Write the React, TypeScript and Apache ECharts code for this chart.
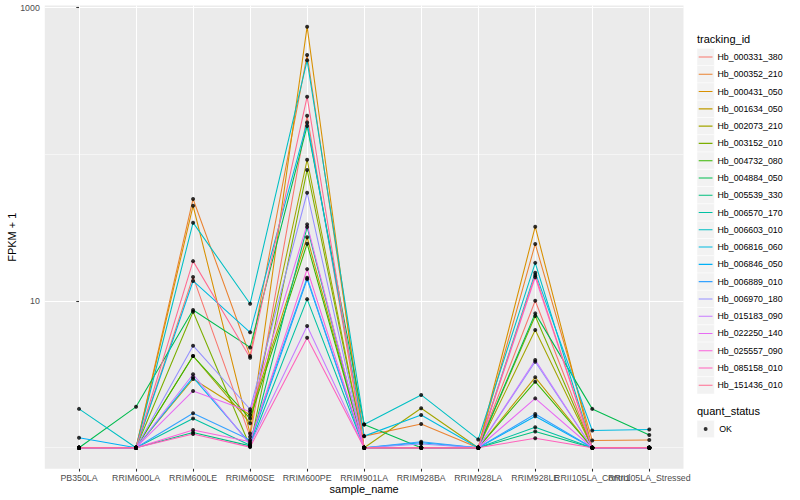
import React, { useEffect, useRef } from "react";
import * as echarts from "echarts";

const FONT = "'Liberation Sans', Arial, Helvetica, sans-serif";

const categories = [
  "PB350LA", "RRIM600LA", "RRIM600LE", "RRIM600SE", "RRIM600PE", "RRIM901LA",
  "RRIM928BA", "RRIM928LA", "RRIM928LE", "RRII105LA_Control", "RRII105LA_Stressed",
];

const trackingIds = [
  "Hb_000331_380", "Hb_000352_210", "Hb_000431_050", "Hb_001634_050", "Hb_002073_210",
  "Hb_003152_010", "Hb_004732_080", "Hb_004884_050", "Hb_005539_330", "Hb_006570_170",
  "Hb_006603_010", "Hb_006816_060", "Hb_006846_050", "Hb_006889_010", "Hb_006970_180",
  "Hb_015183_090", "Hb_022250_140", "Hb_025557_090", "Hb_085158_010", "Hb_151436_010",
];

const hueColors = [
  "#F8766D", "#EA8331", "#D89000", "#C09B00", "#A3A500", "#7CAE00", "#39B600", "#00BB4E",
  "#00BF7D", "#00C1A3", "#00BFC4", "#00BAE0", "#00B0F6", "#35A2FF", "#9590FF", "#C77CFF",
  "#E76BF3", "#FA62DB", "#FF62BC", "#FF6C91",
];

// FPKM + 1 per gene, in category order
const hb000331_380 = [1, 1, 14.6, 1.19, 183, 1, 1, 1, 10.05, 1, 1];
const hb000352_210 = [1, 1, 49.6, 4.22, 475, 1.2, 1.45, 1, 24.5, 1.12, 1.13];
const hb000431_050 = [1, 1, 44.6, 1.25, 741, 1, 1, 1, 32.1, 1, 1];
const hb001634_050 = [1, 1, 2.94, 1.67, 27.2, 1, 1, 1, 3.02, 1, 1];
const hb002073_210 = [1, 1, 4.22, 1.47, 91.8, 1, 1.86, 1, 6.34, 1, 1];
const hb003152_010 = [1, 1, 8.45, 1.02, 78.2, 1, 1, 1, 7.9, 1, 1];
const hb004732_080 = [1, 1, 4.22, 1.58, 24.6, 1, 1, 1, 2.82, 1, 1];
const hb004884_050 = [1, 1.9, 8.69, 4.83, 156, 1.44, 1, 1, 8.24, 1.84, 1.22];
const hb005539_330 = [1, 1, 1.27, 1.03, 31.9, 1, 1, 1, 1.29, 1, 1];
const hb006570_170 = [1, 1, 1.58, 1.04, 10.3, 1, 1, 1, 1.38, 1, 1];
const hb006603_010 = [1.84, 1, 34.2, 9.59, 437, 1.44, 2.29, 1.14, 18.2, 1, 1];
const hb006816_060 = [1, 1, 13.7, 6.12, 165, 1.2, 1.67, 1, 15.6, 1.31, 1.33];
const hb006846_050 = [1.17, 1, 3.02, 1.07, 14.1, 1, 1.08, 1, 1.64, 1, 1];
const hb006889_010 = [1, 1, 1.72, 1.13, 14.4, 1, 1.1, 1, 1.7, 1, 1];
const hb006970_180 = [1, 1, 4.96, 1.83, 54.7, 1, 1.06, 1, 3.86, 1, 1];
const hb015183_090 = [1, 1, 3.17, 1.05, 6.76, 1, 1, 1, 3.96, 1, 1];
const hb022250_140 = [1, 1, 2.44, 1.76, 33.3, 1, 1, 1, 2.17, 1, 1];
const hb025557_090 = [1, 1, 1.32, 1.1, 16.5, 1, 1, 1, 14.5, 1, 1];
const hb085158_010 = [1, 1, 1.24, 1.01, 5.62, 1, 1, 1, 1.16, 1, 1];
const hb151436_010 = [1, 1, 18.7, 4.11, 247, 1, 1, 1, 15.0, 1, 1];

const seriesValues = [
  hb000331_380, hb000352_210, hb000431_050, hb001634_050, hb002073_210,
  hb003152_010, hb004732_080, hb004884_050, hb005539_330, hb006570_170,
  hb006603_010, hb006816_060, hb006846_050, hb006889_010, hb006970_180,
  hb015183_090, hb022250_140, hb025557_090, hb085158_010, hb151436_010,
];

const yLabelValues = [10, 1000];
const yMinorGrid = [1, 100];
const quantStatus = ["OK"];

const KEY = 17.28;
const LINE_ICON =
  "path://M0,0L0.001,0M13.8,17.28L13.799,17.28M0,8.105L13.8,8.105L13.8,9.175L0,9.175Z";
const POINT_ICON =
  "path://M0,0L0.001,0M17.28,17.28L17.279,17.28M10.6,8.64A1.96,1.96,0,1,1,6.68,8.64A1.96,1.96,0,1,1,10.6,8.64Z";

function makeXAxis(values: number[], withName: boolean): any {
  return {
    type: "value",
    position: "bottom",
    offset: 0,
    min: -0.6,
    max: 10.6,
    axisLine: { show: false },
    axisTick: {
      show: true,
      customValues: values,
      length: 2.75,
      lineStyle: { color: "#333333", width: 1.07 },
    },
    axisLabel: {
      customValues: values,
      formatter: (v: number) => categories[Math.round(v)] ?? "",
      fontSize: 8.8,
      color: "#4D4D4D",
      margin: 5,
      hideOverlap: false,
      showMinLabel: true,
      showMaxLabel: true,
      fontFamily: FONT,
    },
    splitLine: { show: true, lineStyle: { color: "#FFFFFF", width: 1.07 } },
    ...(withName
      ? {
          name: "sample_name",
          nameLocation: "middle",
          nameGap: 15,
          nameMoveOverlap: false,
          nameTextStyle: { fontSize: 11, color: "#000000", fontFamily: FONT },
        }
      : {}),
  };
}

export default function App() {
  const ref = useRef<HTMLDivElement>(null);

  useEffect(() => {
    if (!ref.current) return;
    const chart = echarts.init(ref.current, undefined, { renderer: "svg" });
    const catIdx = categories.map((_, i) => i);
    const evenIdx = catIdx.filter((i) => i % 2 === 0);
    const oddIdx = catIdx.filter((i) => i % 2 === 1);

    const lineSeries: any[] = trackingIds.map((name, s) => ({
      type: "line",
      name,
      xAxisIndex: 0,
      data: seriesValues[s].map((v, i) => [i, v]),
      showSymbol: false,
      symbol: "none",
      color: hueColors[s],
      lineStyle: { color: hueColors[s], width: 1.07 },
      itemStyle: { color: hueColors[s] },
      emphasis: { disabled: true },
      silent: true,
      z: 2,
      ...(s === 0
        ? {
            markLine: {
              silent: true,
              symbol: "none",
              z: 1,
              label: { show: false },
              lineStyle: { color: "#FFFFFF", width: 0.53, type: "solid" },
              data: yMinorGrid.map((v) => ({ yAxis: v })),
            },
          }
        : {}),
    }));

    const points: number[][] = [];
    seriesValues.forEach((vals) => vals.forEach((v, i) => points.push([i, v])));

    const keyBoxes: any[] = [];
    for (let i = 0; i < trackingIds.length; i++) {
      keyBoxes.push({
        type: "rect",
        shape: { x: 697, y: 48.36 + i * KEY, width: KEY, height: KEY },
        style: { fill: "#F2F2F2", stroke: "#FFFFFF", lineWidth: 0.5 },
      });
    }
    keyBoxes.push({
      type: "rect",
      shape: { x: 697, y: 420.4, width: KEY, height: KEY },
      style: { fill: "#F2F2F2", stroke: "#FFFFFF", lineWidth: 0.5 },
    });

    chart.setOption({
      animation: false,
      textStyle: { fontFamily: FONT },
      grid: {
        left: 44.8,
        right: 116.5,
        top: 5.6,
        bottom: 31.2,
        show: true,
        backgroundColor: "#EBEBEB",
        borderWidth: 0,
        containLabel: false,
        outerBoundsMode: "none",
      },
      xAxis: [makeXAxis(evenIdx, true), makeXAxis(oddIdx, false)],
      yAxis: {
        type: "log",
        logBase: 10,
        min: 0.7186,
        max: 1031.6,
        axisLine: { show: false },
        axisTick: {
          show: true,
          customValues: yLabelValues,
          length: 2.75,
          lineStyle: { color: "#333333", width: 1.07 },
        },
        axisLabel: {
          customValues: yLabelValues,
          formatter: (v: number) => String(Math.round(v)),
          fontSize: 8.8,
          color: "#4D4D4D",
          margin: 5,
          showMinLabel: true,
          showMaxLabel: true,
          fontFamily: FONT,
        },
        splitLine: { show: true, lineStyle: { color: "#FFFFFF", width: 1.07 } },
        minorSplitLine: { show: false },
        name: "FPKM + 1",
        nameLocation: "middle",
        nameGap: 27,
        nameRotate: 90,
        nameMoveOverlap: false,
        nameTextStyle: { fontSize: 11, color: "#000000", fontFamily: FONT },
      },
      legend: [
        {
          orient: "vertical",
          left: 698.7,
          top: 48.36,
          padding: 0,
          itemGap: 0,
          itemWidth: 13.8,
          itemHeight: KEY,
          selectedMode: false,
          itemStyle: { borderWidth: 0 },
          textStyle: { fontSize: 8.8, color: "#000000", fontFamily: FONT },
          data: trackingIds.map((name) => ({ name, icon: LINE_ICON })),
        },
        {
          orient: "vertical",
          left: 697,
          top: 420.4,
          padding: 0,
          itemGap: 0,
          itemWidth: KEY,
          itemHeight: KEY,
          selectedMode: false,
          itemStyle: { borderWidth: 0 },
          textStyle: { fontSize: 8.8, color: "#000000", fontFamily: FONT },
          data: quantStatus.map((name) => ({ name, icon: POINT_ICON })),
        },
      ],
      graphic: [
        ...keyBoxes,
        {
          type: "text",
          x: 697,
          y: 39,
          style: { text: "tracking_id", fontSize: 11, fontFamily: FONT, fill: "#000000", verticalAlign: "middle" },
        },
        {
          type: "text",
          x: 697,
          y: 411,
          style: { text: "quant_status", fontSize: 11, fontFamily: FONT, fill: "#000000", verticalAlign: "middle" },
        },
      ],
      series: [
        ...lineSeries,
        {
          type: "scatter",
          name: quantStatus[0],
          xAxisIndex: 0,
          data: points,
          symbol: "circle",
          symbolSize: 4,
          itemStyle: { color: "#000000" },
          color: "#000000",
          emphasis: { disabled: true },
          silent: true,
          z: 3,
        },
      ],
    });

    return () => chart.dispose();
  }, []);

  return (
    <div
      ref={ref}
      style={{ position: "fixed", left: 0, top: 0, width: 800, height: 500, background: "#FFFFFF" }}
    />
  );
}
